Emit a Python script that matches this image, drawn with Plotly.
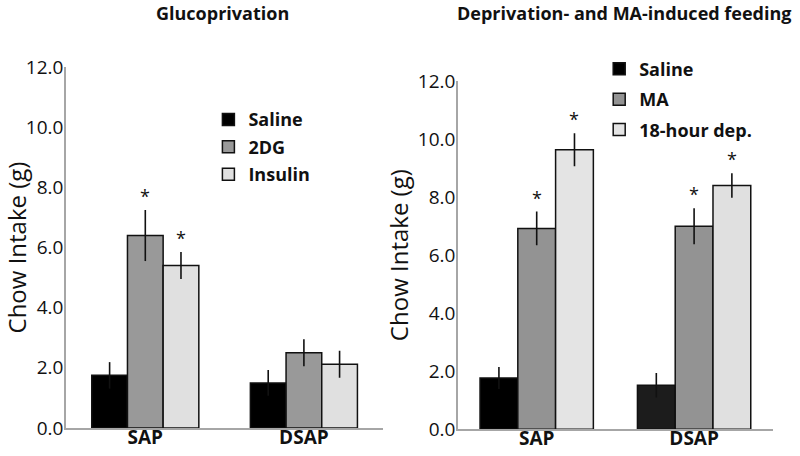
import plotly.graph_objects as go

groups = ["SAP", "DSAP"]

# Left panel: Glucoprivation
left_title = "Glucoprivation"
left_series = ["Saline", "2DG", "Insulin"]
left_values = [[1.75, 1.50], [6.40, 2.50], [5.40, 2.12]]
left_errors = [[0.44, 0.43], [0.85, 0.45], [0.45, 0.45]]
left_stars = [[False, False], [True, False], [True, False]]

# Right panel: Deprivation- and MA-induced feeding
right_title = "Deprivation- and MA-induced feeding"
right_series = ["Saline", "MA", "18-hour dep."]
right_values = [[1.77, 1.52], [6.92, 7.00], [9.63, 8.40]]
right_errors = [[0.38, 0.42], [0.58, 0.62], [0.57, 0.42]]
right_stars = [[False, False], [True, True], [True, True]]

y_ticks = [0, 2, 4, 6, 8, 10, 12]
y_ticktext = ["0.0", "2.0", "4.0", "6.0", "8.0", "10.0", "12.0"]

left_colors = [["#000000", "#000000"], ["#999999", "#999999"], ["#e0e0e0", "#e0e0e0"]]
right_colors = [["#000000", "#1c1c1c"], ["#939393", "#939393"], ["#e4e4e4", "#e0e0e0"]]

FONT = "Open Sans, Noto Sans, sans-serif"

fig = go.Figure()
annotations = []


def add_panel(series, values, errors, stars, colors, xa, ya, legend, width, tag):
    n = len(series)
    offsets = [-(n * width) / 2 + i * width for i in range(n)]
    for i, name in enumerate(series):
        fig.add_trace(go.Bar(
            name=name,
            x=list(range(len(groups))),
            y=values[i],
            width=width,
            offset=offsets[i],
            marker=dict(color=colors[i], line=dict(color="#111111", width=1.5)),
            error_y=dict(type="data", array=errors[i], visible=True,
                         color="#111111", thickness=1.6, width=0),
            xaxis=xa, yaxis=ya, legend=legend, legendgroup=f"{tag}{i}",
        ))
        for g in range(len(groups)):
            if stars[i][g]:
                annotations.append(dict(
                    x=g + offsets[i] + width / 2, y=values[i][g] + errors[i][g],
                    xref=xa, yref=ya,
                    text="*", showarrow=False, yanchor="bottom", yshift=0,
                    font=dict(family=FONT, size=18, color="#111111"),
                ))


add_panel(left_series, left_values, left_errors, left_stars, left_colors, "x", "y", "legend", 0.225, "L")
add_panel(right_series, right_values, right_errors, right_stars, right_colors, "x2", "y2", "legend2", 0.24, "R")

axis_common = dict(
    tickmode="array", tickvals=list(range(len(groups))), ticktext=groups,
    range=[-0.5, 1.5], showline=True, linecolor="#a6a6a6", linewidth=1.5,
    ticks="", showgrid=False, zeroline=False, automargin=False,
    ticklabelstandoff=-9,
    tickfont=dict(family=FONT, size=19, color="#111111", weight="bold"),
)
yaxis_common = dict(
    range=[0, 12], tickmode="array", tickvals=y_ticks, ticktext=y_ticktext,
    showline=True, linecolor="#a6a6a6", linewidth=1.5, ticks="",
    showgrid=False, zeroline=False, automargin=False,
    ticklabelstandoff=-3,
    tickfont=dict(family=FONT, size=19, color="#111111"),
    title=dict(text="Chow Intake (g)", font=dict(family=FONT, size=24, color="#111111"), standoff=2),
)

title_font = dict(family=FONT, size=18, color="#111111", weight="bold")
legend_font = dict(family=FONT, size=18, color="#111111", weight="bold")
fig.update_layout(
    width=800, height=456,
    margin=dict(l=0, r=0, t=0, b=0),
    paper_bgcolor="white", plot_bgcolor="white",
    barmode="overlay",
    xaxis=dict(domain=[0.0825, 0.479], anchor="y", **axis_common),
    yaxis=dict(domain=[0.0614, 0.853], anchor="x", **yaxis_common),
    xaxis2=dict(domain=[0.5725, 0.966], anchor="y2", **axis_common),
    yaxis2=dict(domain=[0.0585, 0.8224], anchor="x2", **yaxis_common),
    legend=dict(x=0.2605, y=0.778, xanchor="left", yanchor="top", font=legend_font,
                bgcolor="rgba(0,0,0,0)", itemwidth=30, tracegroupgap=1),
    legend2=dict(x=0.749, y=0.889, xanchor="left", yanchor="top", font=legend_font,
                 bgcolor="rgba(0,0,0,0)", itemwidth=30, tracegroupgap=4),
    showlegend=True,
    annotations=annotations + [
        dict(text=left_title, x=0.278, y=1 - 13 / 456, xref="paper", yref="paper",
             xanchor="center", yanchor="middle", showarrow=False, font=title_font),
        dict(text=right_title, x=0.78, y=1 - 13 / 456, xref="paper", yref="paper",
             xanchor="center", yanchor="middle", showarrow=False, font=title_font),
    ],
)

fig.write_html("out.html", config={"displayModeBar": False},
               post_script="document.body.style.margin='0';")
